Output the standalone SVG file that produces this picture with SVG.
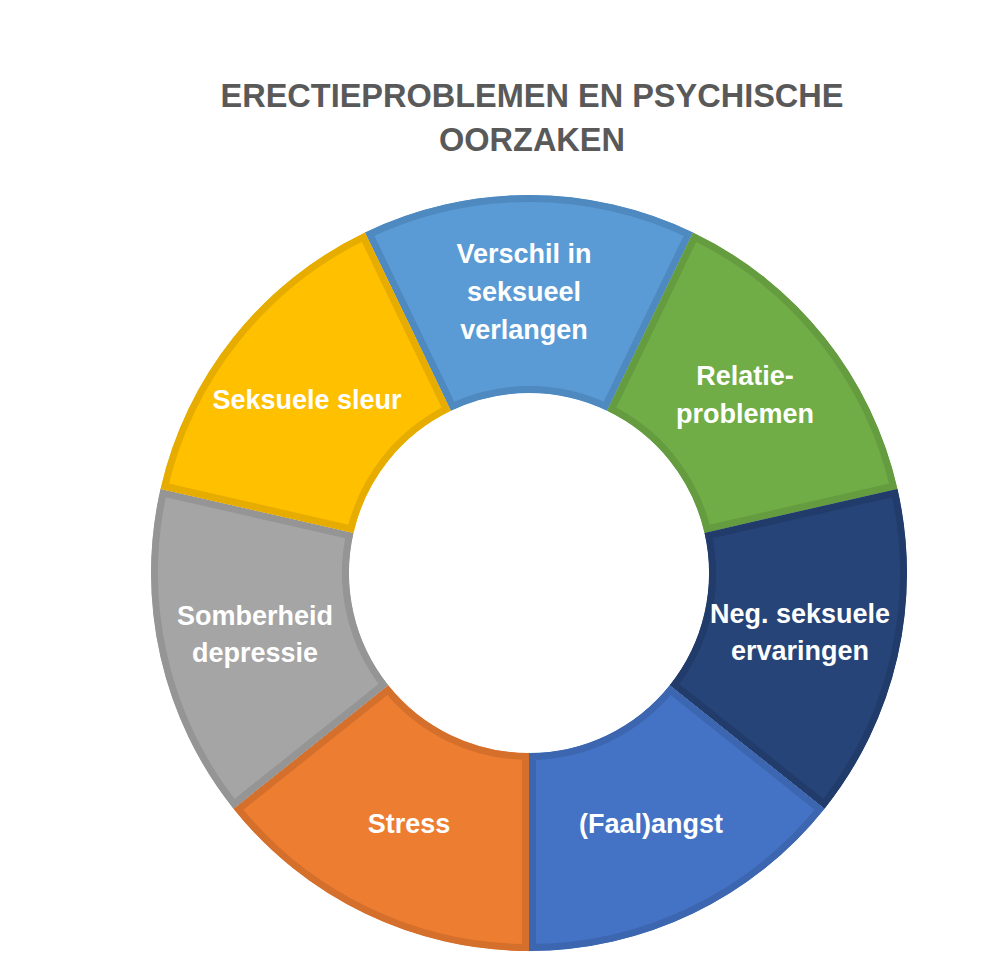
<svg xmlns="http://www.w3.org/2000/svg" xmlns:xlink="http://www.w3.org/1999/xlink" width="993" height="964" viewBox="0 0 993 964">
<style>
.title{font-family:"Liberation Sans",Arial,sans-serif;font-weight:bold;font-size:32.5px;fill:#595959;text-anchor:middle}
.lbl{font-family:"Liberation Sans",Arial,sans-serif;font-weight:bold;font-size:27px;fill:#ffffff;text-anchor:middle}
.seg{stroke-width:14;stroke-linejoin:miter}
</style>
<defs>
<path id="p1" d="M364.99,232.43 A378,378 0 0 1 693.01,232.43 L607.10,410.83 A180,180 0 0 0 450.90,410.83 Z"/>
<path id="p2" d="M693.01,232.43 A378,378 0 0 1 897.52,488.89 L704.49,532.95 A180,180 0 0 0 607.10,410.83 Z"/>
<path id="p3" d="M897.52,488.89 A378,378 0 0 1 824.53,808.68 L669.73,685.23 A180,180 0 0 0 704.49,532.95 Z"/>
<path id="p4" d="M824.53,808.68 A378,378 0 0 1 529,951 L529,753 A180,180 0 0 0 669.73,685.23 Z"/>
<path id="p5" d="M529,951 A378,378 0 0 1 233.47,808.68 L388.27,685.23 A180,180 0 0 0 529,753 Z"/>
<path id="p6" d="M233.47,808.68 A378,378 0 0 1 160.48,488.89 L353.51,532.95 A180,180 0 0 0 388.27,685.23 Z"/>
<path id="p7" d="M160.48,488.89 A378,378 0 0 1 364.99,232.43 L450.90,410.83 A180,180 0 0 0 353.51,532.95 Z"/>
<clipPath id="c1"><use xlink:href="#p1"/></clipPath>
<clipPath id="c2"><use xlink:href="#p2"/></clipPath>
<clipPath id="c3"><use xlink:href="#p3"/></clipPath>
<clipPath id="c4"><use xlink:href="#p4"/></clipPath>
<clipPath id="c5"><use xlink:href="#p5"/></clipPath>
<clipPath id="c6"><use xlink:href="#p6"/></clipPath>
<clipPath id="c7"><use xlink:href="#p7"/></clipPath>
</defs>
<rect width="993" height="964" fill="#ffffff"/>
<g id="title">
<text class="title" x="532" y="107">ERECTIEPROBLEMEN EN PSYCHISCHE</text>
<text class="title" x="532" y="151">OORZAKEN</text>
</g>
<g id="verschil">
<use xlink:href="#p1" clip-path="url(#c1)" class="seg" fill="#5B9BD5" stroke="#4E89C0"/>
<text class="lbl" x="524" y="263">Verschil in</text>
<text class="lbl" x="524" y="301">seksueel</text>
<text class="lbl" x="524" y="339">verlangen</text>
</g>
<g id="relatie">
<use xlink:href="#p2" clip-path="url(#c2)" class="seg" fill="#70AD47" stroke="#649C3F"/>
<text class="lbl" x="745" y="385">Relatie-</text>
<text class="lbl" x="745" y="423">problemen</text>
</g>
<g id="negatief">
<use xlink:href="#p3" clip-path="url(#c3)" class="seg" fill="#264478" stroke="#213C6B"/>
<text class="lbl" x="800" y="623">Neg. seksuele</text>
<text class="lbl" x="800" y="660">ervaringen</text>
</g>
<g id="faalangst">
<use xlink:href="#p4" clip-path="url(#c4)" class="seg" fill="#4472C4" stroke="#3D66B1"/>
<text class="lbl" x="651" y="833">(Faal)angst</text>
</g>
<g id="stress">
<use xlink:href="#p5" clip-path="url(#c5)" class="seg" fill="#ED7D31" stroke="#D5702C"/>
<text class="lbl" x="409" y="833">Stress</text>
</g>
<g id="somberheid">
<use xlink:href="#p6" clip-path="url(#c6)" class="seg" fill="#A5A5A5" stroke="#959595"/>
<text class="lbl" x="255" y="625">Somberheid</text>
<text class="lbl" x="255" y="662">depressie</text>
</g>
<g id="sleur">
<use xlink:href="#p7" clip-path="url(#c7)" class="seg" fill="#FFC000" stroke="#E6AD00"/>
<text class="lbl" x="307" y="409">Seksuele sleur</text>
</g>
</svg>
